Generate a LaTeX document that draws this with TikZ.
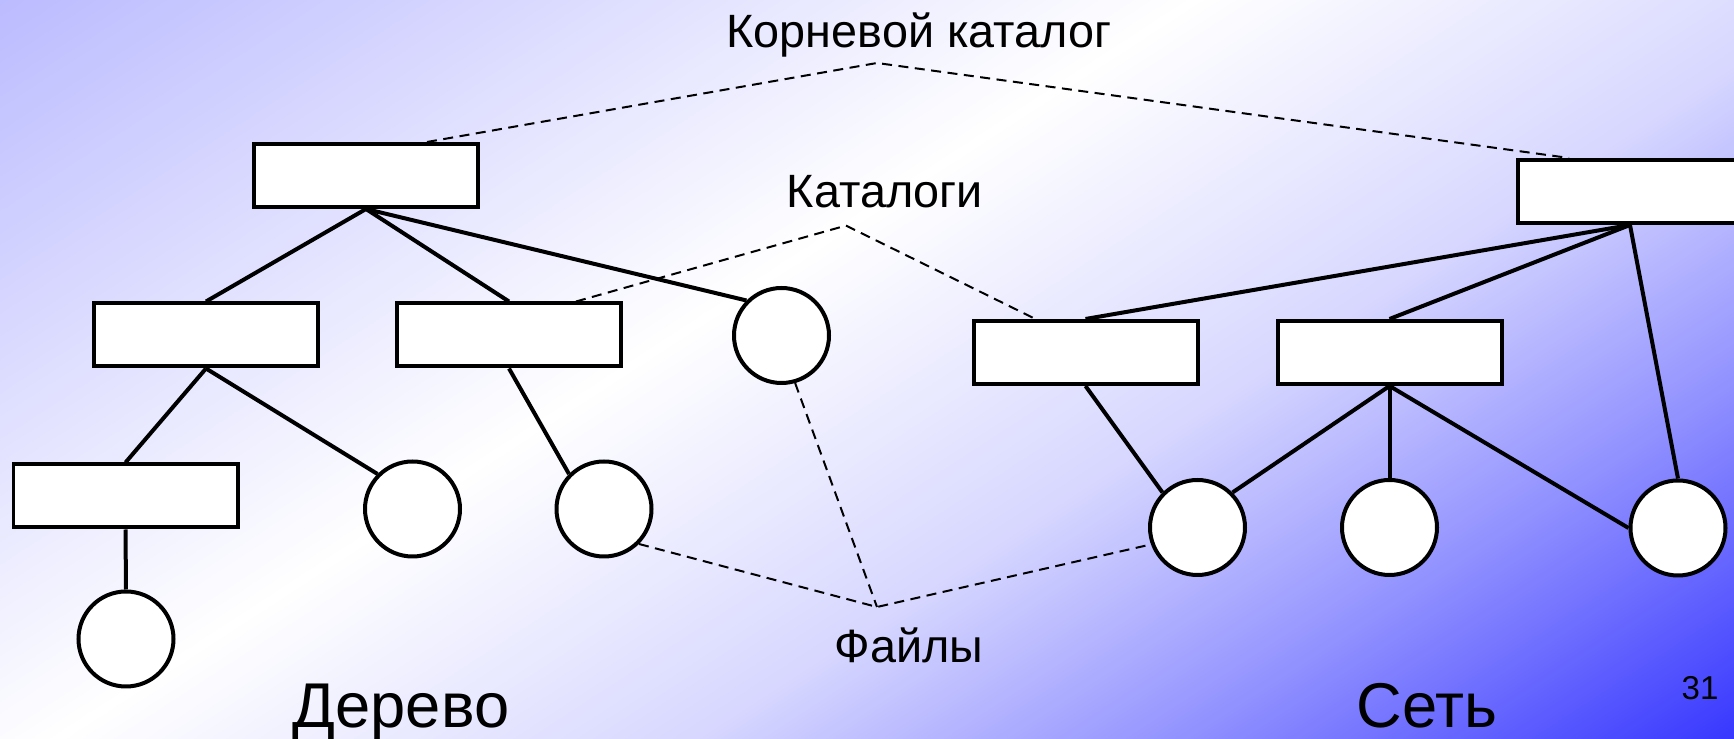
\documentclass[tikz,border=0pt]{standalone}
\usepackage{fontspec}
\setmainfont{Liberation Sans}

\definecolor{bglav}{RGB}{187,187,255}
\definecolor{bgpale}{RGB}{215,215,255}
\definecolor{bgdeep}{RGB}{145,145,255}
\definecolor{bgblue}{RGB}{55,55,255}

% slide background, lavender -> white -> blue
\pgfdeclarehorizontalshading{slidebg}{100bp}{color(0bp)=(bglav); color(25bp)=(bglav);
  color(45.8bp)=(white); color(56.9bp)=(bgpale); color(65.4bp)=(bgdeep);
  color(75bp)=(bgblue); color(100bp)=(bgblue)}

\begin{document}
\begin{tikzpicture}[
    dirbox/.style={rectangle, draw, fill=white, line width=0.04cm, minimum width=2.24cm, minimum height=0.63cm, inner sep=0pt},
    filecirc/.style={circle, draw, fill=white, line width=0.04cm, minimum size=0.95cm, inner sep=0pt},
    tie/.style={line width=0.04cm},
    guide/.style={line width=0.02cm, dash pattern=on 0.1cm off 0.065cm},
    caption/.style={anchor=base, inner sep=0pt, font=\fontsize{13.3}{16}\selectfont},
    bigcaption/.style={anchor=base, inner sep=0pt, font=\fontsize{18}{21}\selectfont}
  ]

  % Background
  \begin{scope}
    \clip (0,0) rectangle (17.34,7.39);
    \begin{scope}[transform canvas={shift={(8.67,3.695)}, rotate=-57}]
      \shade[shading=slidebg] (-7.825,-10) rectangle (7.825,10);
    \end{scope}
  \end{scope}
  \useasboundingbox (0,0) rectangle (17.34,7.39);

  % Tree
  \node[dirbox] (T) at (3.66,5.635) {};
  \node[dirbox] (T-1) at (2.06,4.04) {};
  \node[dirbox] (T-2) at (5.09,4.04) {};
  \node[filecirc] (T-f1) at (7.815,4.035) {};
  \node[dirbox] (T-3) at (1.255,2.43) {};
  \node[filecirc] (T-f2) at (4.125,2.30) {};
  \node[filecirc] (T-f3) at (6.04,2.30) {};
  \node[filecirc] (T-f4) at (1.26,1.00) {};

  \draw[tie] (T.south) -- (T-1.north);
  \draw[tie] (T.south) -- (T-2.north);
  \draw[tie] (T.south) -- (T-f1.north west);
  \draw[tie] (T-1.south) -- (T-3.north);
  \draw[tie] (T-1.south) -- (T-f2.north west);
  \draw[tie] (T-2.south) -- (T-f3.north west);
  \draw[tie] (T-3.south) -- (T-f4.north);

  % Network
  \node[dirbox] (N) at (16.30,5.475) {};
  \node[dirbox] (N-1) at (10.855,3.865) {};
  \node[dirbox] (N-2) at (13.895,3.865) {};
  \node[filecirc] (N-f1) at (11.975,2.115) {};
  \node[filecirc] (N-f2) at (13.895,2.115) {};
  \node[filecirc] (N-f3) at (16.78,2.11) {};

  \draw[tie] (N.south) -- (N-1.north);
  \draw[tie] (N.south) -- (N-2.north);
  \draw[tie] (N.south) -- (N-f3.north);
  \draw[tie] (N-1.south) -- (N-f1.north west);
  \draw[tie] (N-2.south) -- (N-f1.north east);
  \draw[tie] (N-2.south) -- (N-f2.north);
  \draw[tie] (N-2.south) -- (N-f3.west);

  % Labels
  \node[caption] (rootlbl) at (9.19,6.91) {Корневой каталог};
  \node[caption] (dirlbl) at (8.85,5.31) {Каталоги};
  \node[caption] (filelbl) at (9.09,0.76) {Файлы};
  \node[bigcaption] (treelbl) at (4.01,0.11) {Дерево};
  \node[bigcaption] (netlbl) at (14.27,0.11) {Сеть};
  \node[anchor=base, inner sep=0pt, font=\fontsize{9.4}{11}\selectfont] (pageno) at (17.00,0.39) {31};

  % Pointers
  \coordinate (rootpeak) at (8.77,6.76);
  \coordinate (dirpeak) at (8.46,5.134);
  \coordinate (filepeak) at (8.77,1.32);
  \draw[guide] ([xshift=0.61cm]T.north) -- (rootpeak) -- ([xshift=-0.61cm]N.north);
  \draw[guide] ([xshift=0.67cm]T-2.north) -- (dirpeak) -- ([xshift=-0.5cm]N-1.north);
  \draw[guide] (T-f3.south east) -- (filepeak) -- (N-f1.200);
  \draw[guide] (T-f1.286) -- (filepeak);

\end{tikzpicture}
\end{document}
